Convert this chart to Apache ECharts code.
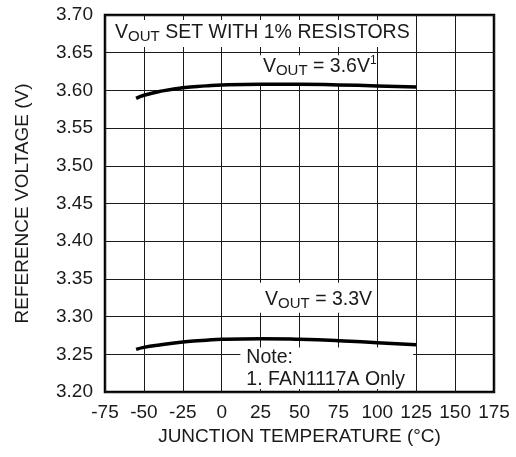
<!DOCTYPE html>
<html>
<head>
<meta charset="utf-8">
<script src="https://cdn.jsdelivr.net/npm/echarts@6/dist/echarts.min.js"></script>
<style>html,body{margin:0;padding:0;background:#fff;}#c{width:516px;height:457px;}</style>
</head>
<body>
<div id="c"></div>
<script>
// Data
var tempX = [-55, -50, -40, -25, -10, 0, 25, 50, 75, 100, 125];
var vout36 = [3.5895, 3.5935, 3.5985, 3.6035, 3.606, 3.6073, 3.6082, 3.6082, 3.6073, 3.606, 3.6046];
var vout33 = [3.2566, 3.2592, 3.2624, 3.2663, 3.2686, 3.2699, 3.2707, 3.2699, 3.2681, 3.2654, 3.2627];
var xTicks = [-75, -50, -25, 0, 25, 50, 75, 100, 125, 150, 175];
var yTicks = [3.20, 3.25, 3.30, 3.35, 3.40, 3.45, 3.50, 3.55, 3.60, 3.65, 3.70];

var FONT = 'Liberation Sans';
var FS = 19;
function pairs(xs, ys) { return xs.map(function (x, i) { return [x, ys[i]]; }); }

var rich = {
  v: { fontFamily: FONT, fontSize: 19.5, color: '#1a1a1a' },
  s: { fontFamily: FONT, fontSize: 15, color: '#1a1a1a', padding: [9, 0, 0, 0] },
  p: { fontFamily: FONT, fontSize: 12, color: '#1a1a1a', padding: [0, 0, 11, 0] },
  n: { fontFamily: FONT, fontSize: 19.5, color: '#1a1a1a', lineHeight: 22 }
};

var chart = echarts.init(document.getElementById('c'));
chart.setOption({
  backgroundColor: '#fff',
  animation: false,
  grid: { left: 105, right: 22, top: 15, bottom: 65, show: true, borderColor: '#000', borderWidth: 2.5, backgroundColor: 'transparent' },
  xAxis: {
    type: 'value', min: -75, max: 175, interval: 25,
    name: 'JUNCTION TEMPERATURE (°C)', nameLocation: 'middle', nameGap: 35,
    nameTextStyle: { fontFamily: FONT, fontSize: FS, color: '#1a1a1a' },
    axisLine: { show: false }, axisTick: { show: false },
    axisLabel: { fontFamily: FONT, fontSize: FS, color: '#1a1a1a', margin: 11,
      customValues: xTicks, formatter: function (v) { return String(v); } },
    splitLine: { show: true, lineStyle: { color: '#1a1a1a', width: 1 } }
  },
  yAxis: {
    type: 'value', min: 3.20, max: 3.70, interval: 0.05,
    name: 'REFERENCE VOLTAGE (V)', nameLocation: 'middle', nameGap: 73,
    nameTextStyle: { fontFamily: FONT, fontSize: FS, color: '#1a1a1a' },
    axisLine: { show: false }, axisTick: { show: false },
    axisLabel: { fontFamily: FONT, fontSize: FS, color: '#1a1a1a', margin: 12,
      customValues: yTicks, formatter: function (v) { return v.toFixed(2); } },
    splitLine: { show: true, lineStyle: { color: '#1a1a1a', width: 1 } }
  },
  series: [
    {
      type: 'line', z: 1, data: [[-75, 3.2]], showSymbol: false, symbol: 'none',
      lineStyle: { opacity: 0 }, silent: true,
      markArea: {
        silent: true,
        itemStyle: { color: '#fff' },
        label: { show: true, position: 'insideLeft', distance: 7, rich: rich },
        data: [
          [{ coord: [-73, 3.6934], label: { formatter: '{v|V}{s|OUT}{v| SET WITH 1% RESISTORS}', offset: [0, -1] } }, { coord: [123, 3.6576] }],
          [{ coord: [22, 3.6465], label: { formatter: '{v|V}{s|OUT}{v| = 3.6V}{p|1}', offset: [0, -3] } }, { coord: [98, 3.6085] }],
          [{ coord: [24, 3.345], label: { formatter: '{v|V}{s|OUT}{v| = 3.3V}', distance: 6, offset: [0, 2] } }, { coord: [98, 3.305] }],
          [{ coord: [12, 3.259], label: { formatter: '{n|Note:}\n{n|1. FAN1117A Only}', distance: 6, offset: [0, 0] } }, { coord: [123, 3.204] }]
        ]
      }
    },
    {
      name: 'VOUT = 3.6V', type: 'line', z: 3, smooth: true, showSymbol: false, symbol: 'none',
      data: pairs(tempX, vout36), lineStyle: { color: '#000', width: 3.5 }
    },
    {
      name: 'VOUT = 3.3V', type: 'line', z: 3, smooth: true, showSymbol: false, symbol: 'none',
      data: pairs(tempX, vout33), lineStyle: { color: '#000', width: 3.5 }
    }
  ]
});
</script>
</body>
</html>
